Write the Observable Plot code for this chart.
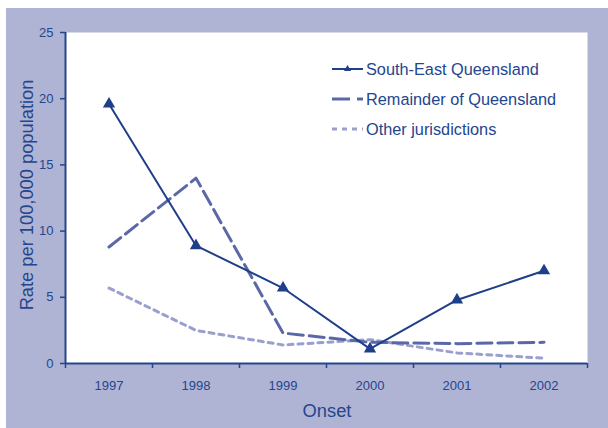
<!DOCTYPE html>
<html><head><meta charset="utf-8">
<script src="https://cdn.jsdelivr.net/npm/d3@7"></script>
<script src="https://cdn.jsdelivr.net/npm/@observablehq/plot@0.6"></script>
<style>
body{margin:0;background:#fff;font-family:"Liberation Sans",Arial,sans-serif;}
#wrap{position:relative;width:608px;height:428px;overflow:hidden;}
#bg{position:absolute;left:6px;top:8px;width:602px;height:420px;background:#B0B4D4;}
#chart{position:absolute;left:0;top:0;}
.lbl{position:absolute;color:#23468E;font-size:18.3px;white-space:nowrap;}
#legend{position:absolute;left:332px;top:54px;}
.li{display:flex;align-items:center;height:30px;font-size:16.3px;color:#23468E;}
.li svg{margin-right:3px;}
</style></head>
<body>
<div id="wrap">
<div id="bg"></div>
<div id="chart"></div>
<div class="lbl" id="ylab" style="left:27px;top:195px;transform:translate(-50%,-50%) rotate(-90deg);">Rate per 100,000 population</div>
<div class="lbl" style="left:327px;top:411px;transform:translate(-50%,-50%);">Onset</div>
<div id="legend"></div>
</div>
<script>
const years = [1997, 1998, 1999, 2000, 2001, 2002];
const southEast = [19.6, 8.9, 5.7, 1.1, 4.8, 7.0];
const remainder = [8.8, 14.0, 2.3, 1.6, 1.5, 1.6];
const other = [5.7, 2.5, 1.4, 1.8, 0.8, 0.4];
const seriesNames = ["South-East Queensland", "Remainder of Queensland", "Other jurisdictions"];
const yTicks = [0, 5, 10, 15, 20, 25];

const dark = "#1E3F8A", mid = "#5A68A8", light = "#9AA0CE", axisC = "#23468E";
const rows = (vals, s) => years.map((y, i) => ({year: y, value: vals[i], series: s}));
const seData = rows(southEast, seriesNames[0]);
const remData = rows(remainder, seriesNames[1]);
const othData = rows(other, seriesNames[2]);
const bounds = d3.range(years.length + 1).map(i => years[0] - 0.5 + i);

const plot = Plot.plot({
  width: 608, height: 428,
  marginLeft: 65, marginRight: 21, marginTop: 32, marginBottom: 65,
  style: {background: "transparent", fontFamily: "Liberation Sans, Arial, sans-serif", fontSize: "13px", color: axisC},
  x: {type: "linear", domain: [bounds[0], bounds[bounds.length - 1]]},
  y: {domain: [0, 25]},
  marks: [
    Plot.frame({fill: "white", stroke: "none"}),
    Plot.axisY({ticks: yTicks, tickSize: 5, tickPadding: 7, label: null, stroke: axisC, fill: axisC, strokeWidth: 1.5, fontSize: 13}),
    Plot.axisX({ticks: bounds, tickSize: 5, tickFormat: () => "", label: null, stroke: axisC, strokeWidth: 1.5}),
    Plot.axisX({ticks: years, tickSize: 0, tickPadding: 17, tickFormat: d => String(d), label: null, fill: axisC, fontSize: 13}),
    Plot.ruleY([0], {stroke: axisC, strokeWidth: 2}),
    Plot.ruleX([bounds[0]], {stroke: axisC, strokeWidth: 2}),
    Plot.line(othData, {x: "year", y: "value", stroke: light, strokeWidth: 3, strokeDasharray: "5,5"}),
    Plot.line(remData, {x: "year", y: "value", stroke: mid, strokeWidth: 3, strokeDasharray: "15,6"}),
    Plot.line(seData, {x: "year", y: "value", stroke: dark, strokeWidth: 2}),
    Plot.dot(seData, {x: "year", y: "value", symbol: "triangle", r: 3.6, fill: dark, stroke: dark})
  ]
});
document.getElementById("chart").appendChild(plot);

const legendItems = [
  {name: seriesNames[0], color: dark, w: 2, dash: null, marker: true},
  {name: seriesNames[1], color: mid, w: 3, dash: "18,7", marker: false},
  {name: seriesNames[2], color: light, w: 3, dash: "5,5", marker: false}
];
const leg = document.getElementById("legend");
legendItems.forEach(it => {
  const row = document.createElement("div");
  row.className = "li";
  let svg = `<svg width="31" height="12"><line x1="0" x2="31" y1="6" y2="6" stroke="${it.color}" stroke-width="${it.w}" ${it.dash ? `stroke-dasharray="${it.dash}"` : ""}/>`;
  if (it.marker) svg += `<path d="M15.5,2 L19,8 L12,8 Z" fill="${it.color}"/>`;
  svg += `</svg>`;
  row.innerHTML = svg + `<span>${it.name}</span>`;
  leg.appendChild(row);
});
</script>
</body></html>
